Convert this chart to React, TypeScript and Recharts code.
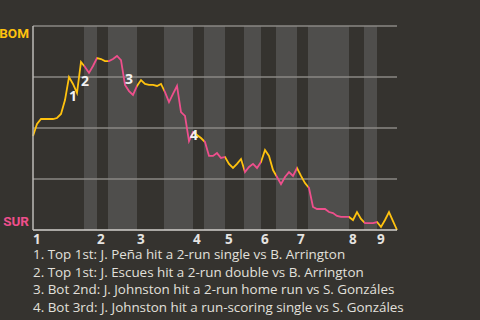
import {
  LabelList,
  Line,
  LineChart,
  ReferenceArea,
  ReferenceLine,
  XAxis,
  YAxis,
} from "recharts";

// BOM win probability after each plate appearance
const winProb = [
  0.461, 0.52, 0.544, 0.544, 0.544, 0.544, 0.549, 0.569, 0.637, 0.75,
  0.716, 0.672, 0.824, 0.799, 0.77, 0.804, 0.843, 0.838, 0.828, 0.828,
  0.838, 0.853, 0.833, 0.711, 0.681, 0.662, 0.706, 0.735, 0.716, 0.711,
  0.711, 0.706, 0.716, 0.676, 0.627, 0.667, 0.706, 0.578, 0.559, 0.436,
  0.48, 0.466, 0.451, 0.431, 0.363, 0.363, 0.377, 0.353, 0.358, 0.324,
  0.304, 0.324, 0.348, 0.284, 0.309, 0.324, 0.304, 0.333, 0.392, 0.363,
  0.294, 0.26, 0.225, 0.26, 0.284, 0.265, 0.304, 0.265, 0.23, 0.206,
  0.113, 0.103, 0.103, 0.103, 0.088, 0.083, 0.069, 0.064, 0.064, 0.064,
  0.049, 0.088, 0.054, 0.034, 0.034, 0.034, 0.039, 0.015, 0.049, 0.088,
  0.044, 0,
];

// where each half inning starts (top 1st, bot 1st, top 2nd, ...)
const halfStarts = [
  0, 12.75, 16, 18.75, 26, 32.75, 40, 42.75, 48, 52.75, 57, 60.75, 66, 68.75,
  79, 82.75, 86,
];
const gameEnd = winProb.length - 1;

const awayTeam = "BOM";
const homeTeam = "SUR";

const noteIndex = [9, 12, 22, 38];
const notes = [
  "Top 1st: J. Peña hit a 2-run single vs B. Arrington",
  "Top 1st: J. Escues hit a 2-run double vs B. Arrington",
  "Bot 2nd: J. Johnston hit a 2-run home run vs S. Gonzáles",
  "Bot 3rd: J. Johnston hit a run-scoring single vs S. Gonzáles",
];
const noteDx = [0, 0, 4, 5];

const YELLOW = "#ffc20e";
const PINK = "#ee4f8c";
const BG = "#35332f";
const BAND = "#4f4e4c";
const FONT = "'Open Sans', sans-serif";
const LABEL_FONT = "Roboto, sans-serif";

const data = winProb.map((wp, i) => ({ pa: i, wp }));
const inningStarts = halfStarts.filter((_, i) => i % 2 === 0);
const halves = halfStarts.map((start, i) => ({
  start,
  end: i + 1 < halfStarts.length ? halfStarts[i + 1] : gameEnd,
  top: i % 2 === 0,
}));

const InningTick = ({ x, y, payload }: any) => (
  <text
    x={x}
    y={y + 13.5}
    textAnchor="start"
    fill="#e6e4e1"
    fontSize={13.5}
    fontWeight="bold"
    fontFamily={FONT}
  >
    {inningStarts.indexOf(payload.value) + 1}
  </text>
);

const TeamTick = ({ x, y, payload }: any) => {
  if (payload.value !== 1 && payload.value !== 0) return null;
  const away = payload.value === 1;
  return (
    <text
      x={x}
      y={away ? y + 12 : y - 4}
      textAnchor="end"
      fill={away ? YELLOW : PINK}
      fontSize={13.5}
      fontWeight="bold"
      fontFamily={LABEL_FONT}
    >
      {away ? awayTeam : homeTeam}
    </text>
  );
};

const NoteLabel = ({ x, y, index }: any) => {
  const n = noteIndex.indexOf(index);
  if (n < 0) return null;
  return (
    <text
      x={x + noteDx[n]}
      y={y + 24}
      textAnchor="start"
      fill="#f2f2f2"
      fontSize={14}
      fontWeight="bold"
      fontFamily={FONT}
    >
      {n + 1}
    </text>
  );
};

export default function App() {
  return (
    <div
      style={{
        position: "fixed",
        left: 0,
        top: 0,
        width: 480,
        height: 320,
        background: BG,
        fontFamily: FONT,
        overflow: "hidden",
      }}
    >
      <LineChart
        width={480}
        height={250}
        data={data}
        margin={{ top: 26, right: 83, bottom: 0, left: 0 }}
      >
        <defs>
          <linearGradient id="halfColors" x1="0" y1="0" x2="1" y2="0">
            {halves.flatMap((h, i) => [
              <stop
                key={`a${i}`}
                offset={h.start / gameEnd}
                stopColor={h.top ? YELLOW : PINK}
              />,
              <stop
                key={`b${i}`}
                offset={h.end / gameEnd}
                stopColor={h.top ? YELLOW : PINK}
              />,
            ])}
          </linearGradient>
        </defs>
        <XAxis
          dataKey="pa"
          type="number"
          domain={[0, gameEnd]}
          ticks={inningStarts}
          interval={0}
          tick={<InningTick />}
          tickLine={false}
          tickSize={0}
          tickMargin={0}
          height={20}
          axisLine={{ stroke: "#d2d0cc", strokeWidth: 1.5 }}
        />
        <YAxis
          type="number"
          domain={[0, 1]}
          ticks={[0, 0.25, 0.5, 0.75, 1]}
          interval={0}
          width={33}
          tick={<TeamTick />}
          tickLine={false}
          tickSize={0}
          tickMargin={4}
          axisLine={{ stroke: "#bdbbb7", strokeWidth: 1.5 }}
        />
        {halves
          .filter((h) => !h.top)
          .map((h, i) => (
            <ReferenceArea
              key={i}
              x1={h.start}
              x2={h.end}
              y1={0}
              y2={1}
              fill={BAND}
              fillOpacity={1}
              stroke="none"
            />
          ))}
        {[0.25, 0.5, 0.75, 1].map((v) => (
          <ReferenceLine key={v} y={v} stroke="#8a8885" strokeWidth={1.5} />
        ))}
        <Line
          type="linear"
          dataKey="wp"
          stroke="url(#halfColors)"
          strokeWidth={1.8}
          dot={false}
          isAnimationActive={false}
        >
          <LabelList dataKey="wp" content={<NoteLabel />} />
        </Line>
      </LineChart>
      <div
        style={{
          position: "absolute",
          left: 33,
          top: 248,
          fontSize: 13.4,
          lineHeight: "13px",
          color: "#e2e0dc",
          whiteSpace: "nowrap",
        }}
      >
        {notes.map((t, i) => (
          <div key={i} style={{ marginBottom: 4.7 }}>
            {i + 1}. {t}
          </div>
        ))}
      </div>
    </div>
  );
}
